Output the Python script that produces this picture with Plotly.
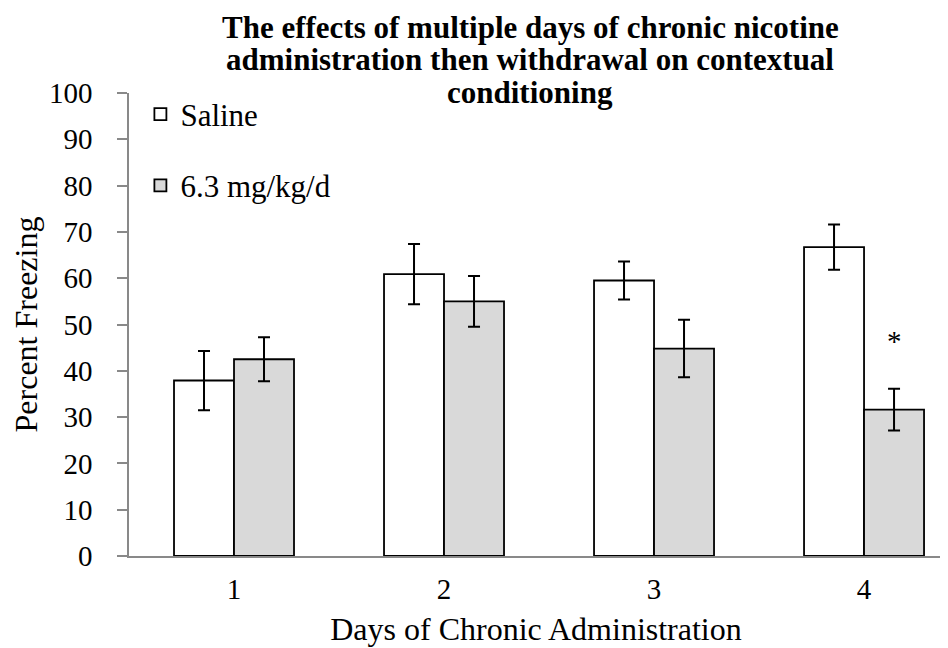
import plotly.graph_objects as go

days = ["1", "2", "3", "4"]
saline = [37.9, 60.9, 59.5, 66.7]
saline_err = [6.4, 6.5, 4.1, 4.9]
nicotine = [42.5, 55.0, 44.8, 31.6]
nicotine_err = [4.75, 5.5, 6.2, 4.5]
series_names = ["Saline", "6.3 mg/kg/d"]
title_lines = ["The effects of multiple days of chronic nicotine",
               "administration then withdrawal on contextual",
               "conditioning"]
sig_day_index = 3
sig_label = "*"
sig_value = 46.5

FONT = "Liberation Serif, Times New Roman, serif"

fig = go.Figure()
fig.add_trace(go.Bar(
    x=days, y=saline, name=series_names[0], legendgroup="a",
    marker=dict(color="white", line=dict(color="black", width=1.8)),
    error_y=dict(type="data", array=saline_err, color="black", thickness=2, width=6),
))
fig.add_trace(go.Bar(
    x=days, y=nicotine, name=series_names[1], legendgroup="b",
    marker=dict(color="#d9d9d9", line=dict(color="black", width=1.8)),
    error_y=dict(type="data", array=nicotine_err, color="black", thickness=2, width=6),
))

W, H = 948, 648
ml, mr, mt, mb = 121, 13, 85, 100
ph = H - mt - mb

annotations = []
title_tops_px = [0.5, 33, 65.5]
for line, ty in zip(title_lines, title_tops_px):
    annotations.append(dict(
        text=f"<b>{line}</b>", xref="paper", yref="paper",
        x=0.493, y=1 + (mt - ty) / ph, xanchor="center", yanchor="top",
        showarrow=False, borderpad=0,
        font=dict(family=FONT, size=31, color="black"),
    ))

# significance marker above the nicotine bar on day 4
annotations.append(dict(
    text=sig_label, xref="x", yref="y",
    x=sig_day_index + 0.143, y=sig_value,
    xanchor="center", yanchor="middle", showarrow=False,
    font=dict(family=FONT, size=29, color="black"),
))

fig.update_layout(
    width=W, height=H,
    margin=dict(l=ml, r=mr, t=mt, b=mb),
    paper_bgcolor="white", plot_bgcolor="white",
    barmode="group", bargap=0.4286, bargroupgap=0,
    font=dict(family=FONT, size=29, color="black"),
    showlegend=True,
    legend=dict(
        x=0.014, y=1.012, xanchor="left", yanchor="top",
        font=dict(family=FONT, size=31, color="black"),
        tracegroupgap=28, itemwidth=30, bgcolor="rgba(0,0,0,0)",
    ),
    annotations=annotations,
    xaxis=dict(
        range=[-0.5, 3.376], showline=True, linecolor="#898989", linewidth=1.5,
        ticks="", showgrid=False, zeroline=False,
        tickfont=dict(family=FONT, size=29), ticklabelstandoff=6,
        title=dict(text="Days of Chronic Administration",
                   font=dict(family=FONT, size=32), standoff=14),
    ),
    yaxis=dict(
        range=[0, 100], dtick=10, showline=True, linecolor="#898989", linewidth=1.5,
        ticks="outside", ticklen=10, tickcolor="#898989", tickwidth=1.5,
        showgrid=False, zeroline=False,
        tickfont=dict(family=FONT, size=29), ticklabelstandoff=19,
        title=dict(text="Percent Freezing", font=dict(family=FONT, size=32), standoff=8),
    ),
)

fig.write_html("out.html")
